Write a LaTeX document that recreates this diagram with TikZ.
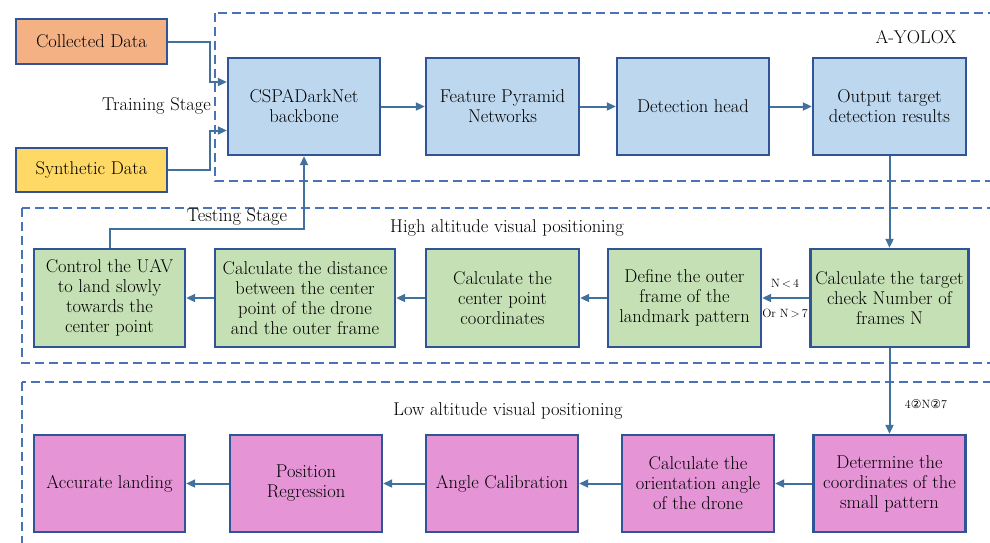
\documentclass[tikz,border=0pt]{standalone}
\usetikzlibrary{arrows.meta}
\usepackage{fontspec}
\newfontfamily\symf{DejaVu Sans}
\definecolor{boxline}{HTML}{2F5597}
\definecolor{arrowc}{HTML}{41719C}
\definecolor{dashc}{HTML}{4A72B8}
\definecolor{orangef}{HTML}{F4B183}
\definecolor{yellowf}{HTML}{FFD966}
\definecolor{bluef}{HTML}{BDD7EE}
\definecolor{greenf}{HTML}{C5E0B4}
\definecolor{pinkf}{HTML}{E594D6}
\begin{document}
\begin{tikzpicture}[x=1pt,y=-1pt,
  box/.style={draw=boxline, line width=2.4pt, minimum height=97pt, minimum width=152pt,
    align=center, inner sep=1pt, font=\fontsize{18.5}{20}\selectfont},
  arr/.style={draw=arrowc, line width=2pt, -{Triangle[length=9pt,width=8pt]}},
  dbox/.style={draw=dashc, line width=1.2pt, dash pattern=on 9pt off 5pt},
  lbl/.style={inner sep=0pt, font=\fontsize{18.5}{20}\selectfont},
  slbl/.style={inner sep=0pt, font=\fontsize{12}{13}\selectfont},
]
\useasboundingbox (0,0) rectangle (990,542);
% dashed frames
\draw[dbox] (215,13) rectangle (1005,181);
\draw[dbox] (22,208) rectangle (1005,363);
\draw[dbox] (22,382) rectangle (1005,570);

% inputs
\node[box, fill=orangef, minimum width=151pt, minimum height=45pt] (coll) at (91.5,41.5) {Collected Data};
\node[box, fill=yellowf, minimum width=151pt, minimum height=44pt] (synt) at (91.5,170) {Synthetic Data};

% A-YOLOX row
\node[box, fill=bluef] (csp) at (304,106.5) {CSPADarkNet\\backbone};
\node[box, fill=bluef, minimum width=153pt] (fpn) at (502.5,106.5) {Feature Pyramid\\Networks};
\node[box, fill=bluef] (det) at (693,106.5) {Detection head};
\node[box, fill=bluef, minimum width=153pt] (out) at (889.5,106.5) {Output target\\detection results};

% high altitude row
\node[box, fill=greenf, minimum width=151pt, minimum height=98pt] (ctrl) at (109.5,298) {Control the UAV\\to land slowly\\towards the\\center point};
\node[box, fill=greenf, minimum width=180pt, minimum height=98pt] (dist) at (305,298) {Calculate the distance\\between the center\\point of the drone\\and the outer frame};
\node[box, fill=greenf, minimum width=153pt, minimum height=98pt] (cen) at (502.5,298) {Calculate the\\center point\\coordinates};
\node[box, fill=greenf, minimum width=153pt, minimum height=98pt] (def) at (684.5,298) {Define the outer\\frame of the\\landmark pattern};
\node[box, fill=greenf, minimum width=158pt, minimum height=98pt] (tgt) at (889.5,298) {Calculate the target\\check Number of\\frames N};

% low altitude row
\node[box, fill=pinkf, minimum width=151pt] (acc) at (109.5,483.5) {Accurate landing};
\node[box, fill=pinkf] (pos) at (306,483.5) {Position\\Regression};
\node[box, fill=pinkf] (ang) at (502,483.5) {Angle Calibration};
\node[box, fill=pinkf] (ori) at (698,483.5) {Calculate the\\orientation angle\\of the drone};
\node[box, fill=pinkf] (detm) at (889.5,483.5) {Determine the\\coordinates of the\\small pattern};

% labels
\node[lbl, anchor=east] (train) at (211,106) {Training Stage};
\node[lbl] (test) at (237,217) {Testing Stage};
\node[lbl] (yolox) at (916,37) {A-YOLOX};
\node[lbl] (high) at (507,228) {High altitude visual positioning};
\node[lbl] (low) at (508,411) {Low altitude visual positioning};
\node[slbl] (nlt) at (785,284) {N\,$<$\,4};
\node[slbl] (ngt) at (785,313) {Or N\,$>$\,7};
\node[slbl] (nin) at (926,404) {4{\symf ②}N{\symf ②}7};

% connectors
\draw[arr] (coll.east) -- ++(42,0) |- ([yshift=24.5pt]csp.west);
\draw[arr] (synt.east) -- ++(42,0) |- ([yshift=-24pt]csp.west);
\draw[arr] (csp) -- (fpn);
\draw[arr] (fpn) -- (det);
\draw[arr] (det) -- (out);
\draw[arr] (out.south) -- (tgt.north);
\draw[arr] (tgt) -- (def);
\draw[arr] (def) -- (cen);
\draw[arr] (cen) -- (dist);
\draw[arr] (dist) -- (ctrl);
\draw[arr] (ctrl.north) -- ++(0,-19) -| (csp.south);
\draw[arr] (tgt.south) -- (detm.north);
\draw[arr] (detm) -- (ori);
\draw[arr] (ori) -- (ang);
\draw[arr] (ang) -- (pos);
\draw[arr] (pos) -- (acc);
\end{tikzpicture}
\end{document}
